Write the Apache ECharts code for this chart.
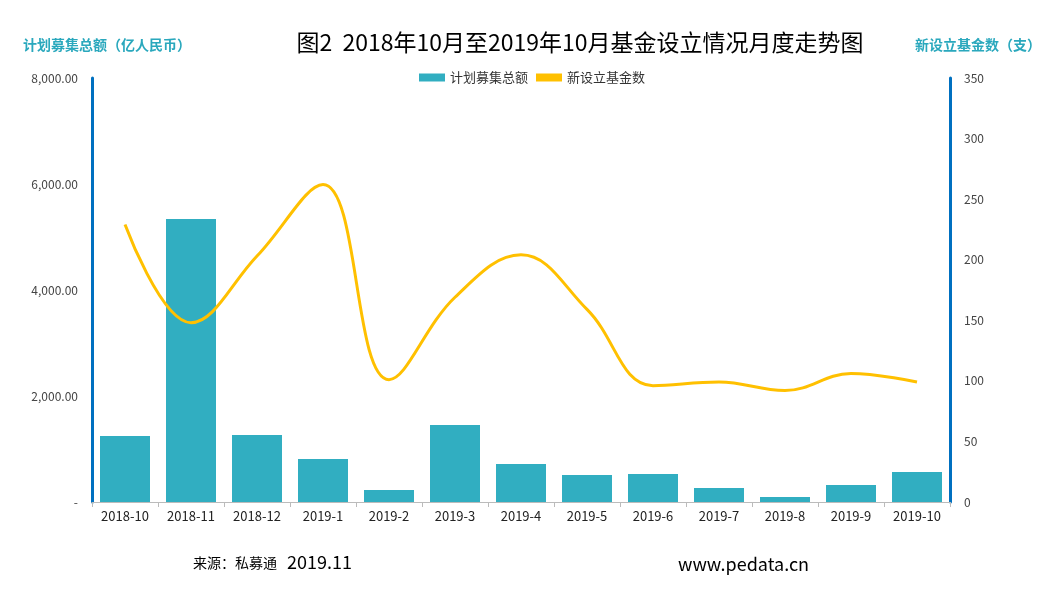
<!DOCTYPE html>
<html><head><meta charset="utf-8">
<script src="https://cdn.jsdelivr.net/npm/echarts@6/dist/echarts.min.js"></script>
<style>html,body{margin:0;background:#fff}#c{width:1064px;height:590px}</style>
</head><body><div id="c"></div>
<script>
// 月份
const months = ['2018-10','2018-11','2018-12','2019-1','2019-2','2019-3','2019-4','2019-5','2019-6','2019-7','2019-8','2019-9','2019-10'];
// 计划募集总额（亿人民币）
const raiseAmount = [1245, 5340, 1264, 811, 226, 1453, 717, 509, 528, 264, 94, 320, 566];
// 新设立基金数（支）
const fundCount = [229, 148, 203, 262, 101, 169, 204, 159, 96, 99, 92, 106, 99];

const chart = echarts.init(document.getElementById('c'));
const font = '"Microsoft YaHei","Noto Sans CJK SC",sans-serif';
chart.setOption({
    textStyle: { fontFamily: font },
    title: {
        text: '图2  2018年10月至2019年10月基金设立情况月度走势图',
        left: 575, top: 26, textAlign: 'center',
        textStyle: { fontSize: 23, fontWeight: 'normal', color: '#000', fontFamily: font }
    },
    legend: {
        top: 66, left: 'center', itemWidth: 26, itemHeight: 8,
        textStyle: { fontSize: 13, color: '#333' },
        data: [{ name: '计划募集总额', icon: 'rect' }, { name: '新设立基金数', icon: 'rect' }]
    },
    grid: { left: 92, right: 114, top: 78, bottom: 88 },
    xAxis: {
        type: 'category', data: months,
        axisLine: { lineStyle: { color: '#bbb' } },
        axisTick: { show: true, lineStyle: { color: '#bbb' } },
        axisLabel: { color: '#222', fontSize: 13 }
    },
    yAxis: [{
        type: 'value', min: 0, max: 8000, interval: 2000,
        name: '计划募集总额（亿人民币）', nameLocation: 'end', nameGap: 26,
        nameTextStyle: { color: '#2aa8bd', fontWeight: 'bold', fontSize: 14, align: 'center', padding: [0, 0, 0, 30] },
        axisLine: { show: true, lineStyle: { color: '#0070c0', width: 3 } },
        axisLabel: { color: '#444', fontSize: 12, margin: 14,
            formatter: v => v === 0 ? '-' : v.toLocaleString('en-US', { minimumFractionDigits: 2 }) },
        splitLine: { show: false }
    }, {
        type: 'value', min: 0, max: 350, interval: 50,
        name: '新设立基金数（支）', nameLocation: 'end', nameGap: 26,
        nameTextStyle: { color: '#2aa8bd', fontWeight: 'bold', fontSize: 14, align: 'center', padding: [0, 0, 0, 56] },
        axisLine: { show: true, lineStyle: { color: '#0070c0', width: 3 } },
        axisLabel: { color: '#444', fontSize: 12, margin: 14 },
        splitLine: { show: false }
    }],
    series: [{
        name: '计划募集总额', type: 'bar', data: raiseAmount, barWidth: 50,
        itemStyle: { color: '#31aec1' }
    }, {
        name: '新设立基金数', type: 'line', yAxisIndex: 1, data: fundCount,
        smooth: 0.4, symbol: 'none',
        lineStyle: { color: '#ffc000', width: 3 }, itemStyle: { color: '#ffc000' }
    }],
    graphic: [
        { type: 'text', left: 193, top: 556, style: { text: '来源：私募通', fill: '#000', font: '14px ' + font } },
        { type: 'text', left: 287, top: 553, style: { text: '2019.11', fill: '#000', font: '18px ' + font } },
        { type: 'text', left: 678, top: 555, style: { text: 'www.pedata.cn', fill: '#000', font: '18px ' + font } }
    ]
});
</script></body></html>
